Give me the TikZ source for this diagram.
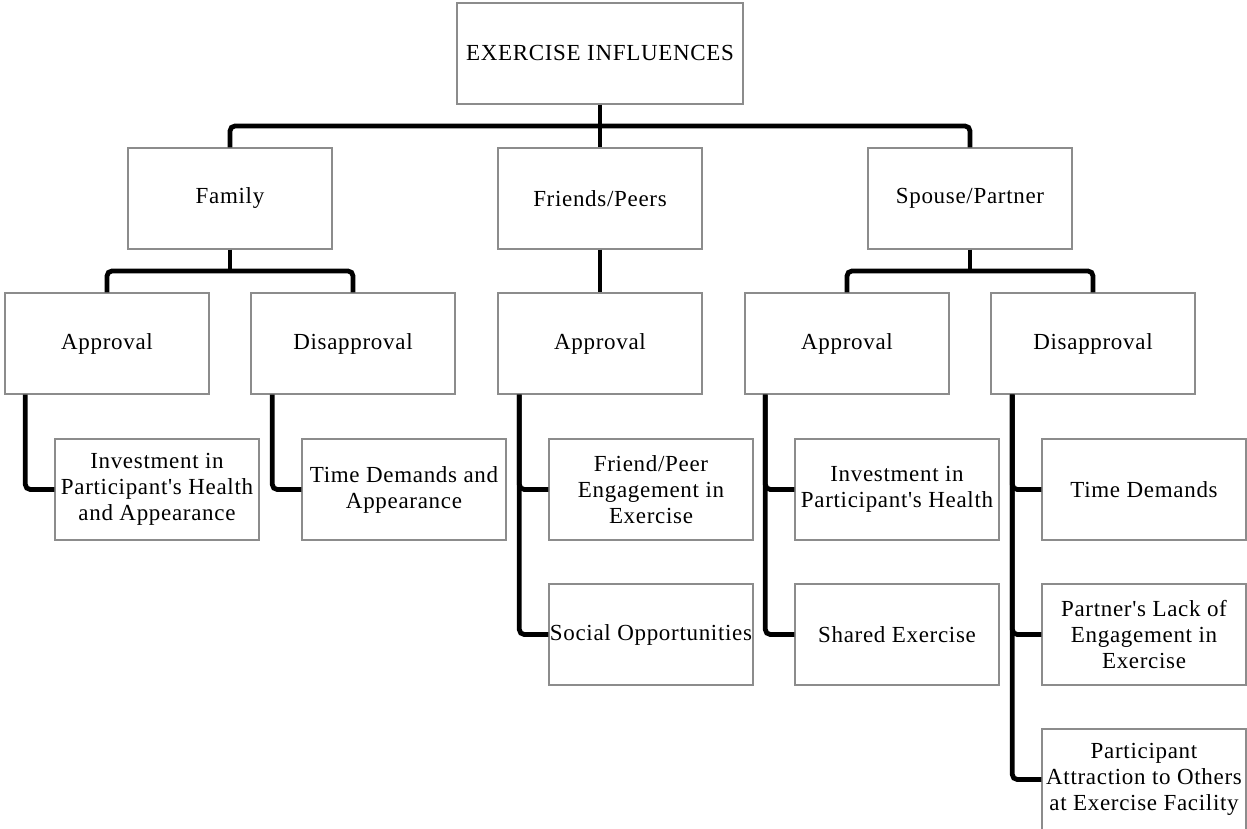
\documentclass[tikz,border=0pt]{standalone}
\usepackage{fontspec}
\setmainfont{Liberation Serif}[LetterSpace=3, Ligatures=TeXOff]
\usetikzlibrary{calc}
\begin{document}
\begin{tikzpicture}[x=1pt,y=-1pt,
  box/.style={draw=black!45, line width=1.4pt, fill=white, minimum width=204pt,
    minimum height=101pt, inner sep=0pt, align=center,
    font=\fontsize{23}{26}\selectfont},
  conn/.style={line width=4.8pt, black, rounded corners=5pt}]
\clip (0,0) rectangle (1247,829);

% boxes
\node[box, minimum width=286pt] (root) at (600,53.5) {EXERCISE INFLUENCES};
\node[box] (fam) at (230,198.5) {Family};
\node[box] (fri) at (600,198.5) {Friends/Peers};
\node[box] (spo) at (970,198.5) {Spouse/Partner};

\node[box] (famA) at (107,343.5) {Approval};
\node[box] (famD) at (353,343.5) {Disapproval};
\node[box] (friA) at (600,343.5) {Approval};
\node[box] (spoA) at (847,343.5) {Approval};
\node[box] (spoD) at (1093,343.5) {Disapproval};

\node[box] (famA1) at (157,489.5) {Investment in\\Participant's Health\\and Appearance};
\node[box] (famD1) at (404,489.5) {Time Demands and\\Appearance};
\node[box] (friA1) at (651,489.5) {Friend/Peer\\Engagement in\\Exercise};
\node[box] (friA2) at (651,634.5) {Social Opportunities};
\node[box] (spoA1) at (897,489.5) {Investment in\\Participant's Health};
\node[box] (spoA2) at (897,634.5) {Shared Exercise};
\node[box] (spoD1) at (1144,489.5) {Time Demands};
\node[box] (spoD2) at (1144,634.5) {Partner's Lack of\\Engagement in\\Exercise};
\node[box] (spoD3) at (1144,779.5) {Participant\\Attraction to Others\\at Exercise Facility};

% tree connectors
\coordinate (bus0) at ($(root.south)!0.5!(fri.north)$);
\draw[conn] (fam.north) |- (bus0) -| (spo.north);
\draw[conn] (root.south) -- (fri.north);

\coordinate (bus1) at ($(fam.south)!0.5!(famA.north)$);
\draw[conn] (famA.north) |- (bus1) -| (famD.north);
\draw[conn] (fam.south) -- (fam.south |- bus1);
\draw[conn] (fri.south) -- (friA.north);
\coordinate (bus2) at ($(spo.south)!0.5!(spoA.north)$);
\draw[conn] (spoA.north) |- (bus2) -| (spoD.north);
\draw[conn] (spo.south) -- (spo.south |- bus2);

% child lists hanging from the left side of each box
\draw[conn] ($(famA.south west)+(21,0)$) |- (famA1.west);
\draw[conn] ($(famD.south west)+(22,0)$) |- (famD1.west);
\draw[conn] ($(friA.south west)+(22,0)$) |- (friA1.west);
\draw[conn] ($(friA.south west)+(22,0)$) |- (friA2.west);
\draw[conn] ($(spoA.south west)+(21,0)$) |- (spoA1.west);
\draw[conn] ($(spoA.south west)+(21,0)$) |- (spoA2.west);
\draw[conn] ($(spoD.south west)+(22,0)$) |- (spoD1.west);
\draw[conn] ($(spoD.south west)+(22,0)$) |- (spoD2.west);
\draw[conn] ($(spoD.south west)+(22,0)$) |- (spoD3.west);
\end{tikzpicture}
\end{document}
